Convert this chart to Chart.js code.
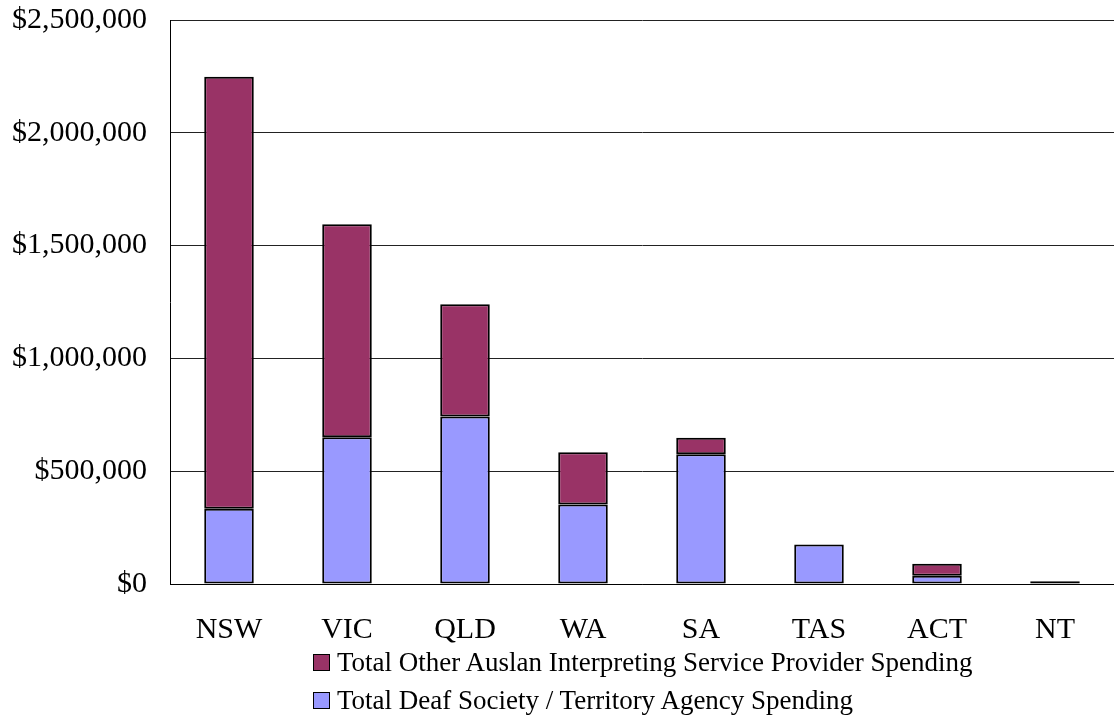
<!DOCTYPE html>
<html>
<head>
<meta charset="utf-8">
<script src="https://cdn.jsdelivr.net/npm/chart.js@4"></script>
<style>
  html, body { margin: 0; padding: 0; background: #fff; }
  #wrap { position: relative; width: 1114px; height: 715px; }
  #legend { position: absolute; left: 313px; top: 643px; font-family: "Liberation Serif", "Times New Roman", serif; font-size: 27px; color: #000; }
  #legend div { display: flex; align-items: center; height: 38px; white-space: nowrap; }
  #legend span.box { display: inline-block; width: 17px; height: 17px; border: 1.5px solid #000; margin-right: 7px; box-sizing: border-box; }
</style>
</head>
<body>
<div id="wrap">
  <canvas id="chart" width="1114" height="715"></canvas>
  <div id="legend"></div>
</div>
<script>
const states = ['NSW', 'VIC', 'QLD', 'WA', 'SA', 'TAS', 'ACT', 'NT'];
const deafSocietySpending = [334000, 651000, 742000, 352000, 575000, 175000, 37000, 12000];
const otherProviderSpending = [1915000, 944000, 498000, 232000, 73000, 0, 53000, 0];

const serif = '"Liberation Serif", "Times New Roman", serif';

const chart = new Chart('chart', {
    type: 'bar',
    data: {
        labels: states,
        datasets: [
            {
                label: 'Total Deaf Society / Territory Agency Spending',
                data: deafSocietySpending,
                backgroundColor: '#9999FF',
                borderColor: '#000',
                borderWidth: 2,
                borderSkipped: false,
            },
            {
                label: 'Total Other Auslan Interpreting Service Provider Spending',
                data: otherProviderSpending,
                backgroundColor: '#993366',
                borderColor: '#000',
                borderWidth: 2,
                borderSkipped: false,
            }
        ]
    },
    options: {
        responsive: false,
        animation: false,
        layout: { padding: { top: 0, right: 0, bottom: 47, left: 0 } },
        plugins: {
            legend: { display: false },
            tooltip: { enabled: false }
        },
        datasets: { bar: { categoryPercentage: 1, barPercentage: 0.42 } },
        scales: {
            x: {
                stacked: true,
                grid: { display: false },
                border: { color: '#000', width: 1 },
                ticks: { color: '#000', padding: 20, font: { family: serif, size: 30 } }
            },
            y: {
                stacked: true,
                min: 0,
                max: 2500000,
                afterFit: scale => { scale.width = 170; },
                // invisible tick marks push the labels off the axis without adding top padding
                grid: { color: '#222', lineWidth: 1, drawTicks: true, tickLength: 21, tickColor: 'rgba(0,0,0,0)' },
                border: { color: '#000', width: 1 },
                ticks: {
                    stepSize: 500000,
                    color: '#000',
                    padding: 2,
                    font: { family: serif, size: 30 },
                    callback: v => '$' + v.toLocaleString('en-US')
                }
            }
        }
    }
});

// legend: top-stacked series first, as in the original
const legendEl = document.getElementById('legend');
chart.data.datasets.slice().reverse().forEach(ds => {
    const row = document.createElement('div');
    const box = document.createElement('span');
    box.className = 'box';
    box.style.background = ds.backgroundColor;
    row.appendChild(box);
    row.appendChild(document.createTextNode(ds.label));
    legendEl.appendChild(row);
});
</script>
</body>
</html>
